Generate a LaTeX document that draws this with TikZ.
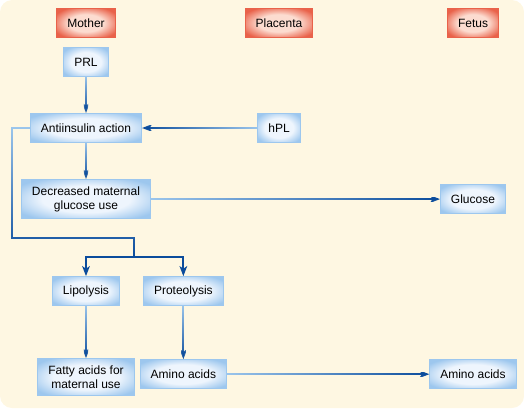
\documentclass[tikz,border=0pt]{standalone}
\usepackage{fontspec}
\setmainfont{Liberation Sans}
\usetikzlibrary{positioning}
\usetikzlibrary{arrows.meta}
\usetikzlibrary{fadings}
\definecolor{paper}{HTML}{FEF7E2}
\definecolor{paleline}{HTML}{9CC6EC}
\definecolor{deepline}{HTML}{0B4C9C}
\definecolor{boxedge}{HTML}{9DC7EE}
\definecolor{boxin}{HTML}{EEF5FD}
\definecolor{headedge}{HTML}{E9624A}
\definecolor{headin}{HTML}{FCDCD0}
\pgfdeclareradialshading{boxshade}{\pgfpoint{0bp}{0bp}}{color(0bp)=(boxin); color(17bp)=(boxin); color(31bp)=(boxedge); color(50bp)=(boxedge)}
\pgfdeclareradialshading{headshade}{\pgfpoint{0bp}{0bp}}{color(0bp)=(headin); color(15bp)=(headin); color(30bp)=(headedge); color(50bp)=(headedge)}
\tikzfading[name=fadedown, top color=transparent!100, bottom color=transparent!0]
\tikzfading[name=faderight, left color=transparent!100, right color=transparent!0]
\tikzfading[name=fadeleft, left color=transparent!0, right color=transparent!100]
\tikzset{
  box/.style={draw=boxedge,line width=1pt,shade,shading=boxshade,
    minimum height=29pt,inner xsep=10.5pt,inner ysep=7pt,align=center,text=black},
  head/.style={box,draw=headedge,shading=headshade},
  tip/.style={-{Stealth[length=10pt,width=7.5pt,inset=2.5pt]}},
  flowdown/.style={draw=paleline,line width=2pt,shorten >=5pt,
    postaction={draw=deepline,shorten >=0pt,path fading=fadedown,tip}},
  flowright/.style={draw=paleline,line width=2pt,shorten >=5pt,
    postaction={draw=deepline,shorten >=0pt,path fading=faderight,tip}},
  flowleft/.style={draw=paleline,line width=2pt,shorten >=5pt,
    postaction={draw=deepline,shorten >=0pt,path fading=fadeleft,tip}},
  pipe/.style={draw=paleline,line width=2pt,
    postaction={draw=deepline,path fading=fadedown}},
  branch/.style={draw=deepline,line width=2pt,tip}
}
\begin{document}
\begin{tikzpicture}[x=1pt,y=-1pt,node distance=36pt,font=\fontsize{12}{14}\selectfont]
  \fill[paper,rounded corners=12pt] (0,0) rectangle (524,408);
  \useasboundingbox (0,0) rectangle (524,408);
  \node[head](mother) at (86,23) {Mother};
  \node[head](placenta) at (279,23) {Placenta};
  \node[head](fetus) at (473,23) {Fetus};
  \node[box,below=9pt of mother](prl) {PRL};
  \node[box,below= of prl](anti) {Antiinsulin action};
  \node[box,below= of anti](dec) {Decreased maternal\\glucose use};
  \node[box,below=57pt of dec](lip) {Lipolysis};
  \node[box,below=52pt of lip](fatty) {Fatty acids for\\maternal use};
  \node[box,right=23pt of lip](prot) {Proteolysis};
  \node[box,below=53pt of prot](amino) {Amino acids};
  \node[box](hpl) at (placenta |- anti) {hPL};
  \node[box](glucose) at (fetus |- dec) {Glucose};
  \node[box](aminof) at (fetus |- amino) {Amino acids};
  \coordinate (bend) at (134,238);
  \coordinate (split) at (134,257);
  \draw[flowdown] (prl)--(anti);
  \draw[flowleft] (hpl)--(anti);
  \draw[flowdown] (anti)--(dec);
  \draw[flowright] (dec)--(glucose);
  \draw[pipe] (anti.west)--++(-18pt,0pt) |- (bend)--(split);
  \draw[branch] (split) -| (lip);
  \draw[branch] (split) -| (prot);
  \draw[flowdown] (lip)--(fatty);
  \draw[flowdown] (prot)--(amino);
  \draw[flowright] (amino)--(aminof);
\end{tikzpicture}
\end{document}
